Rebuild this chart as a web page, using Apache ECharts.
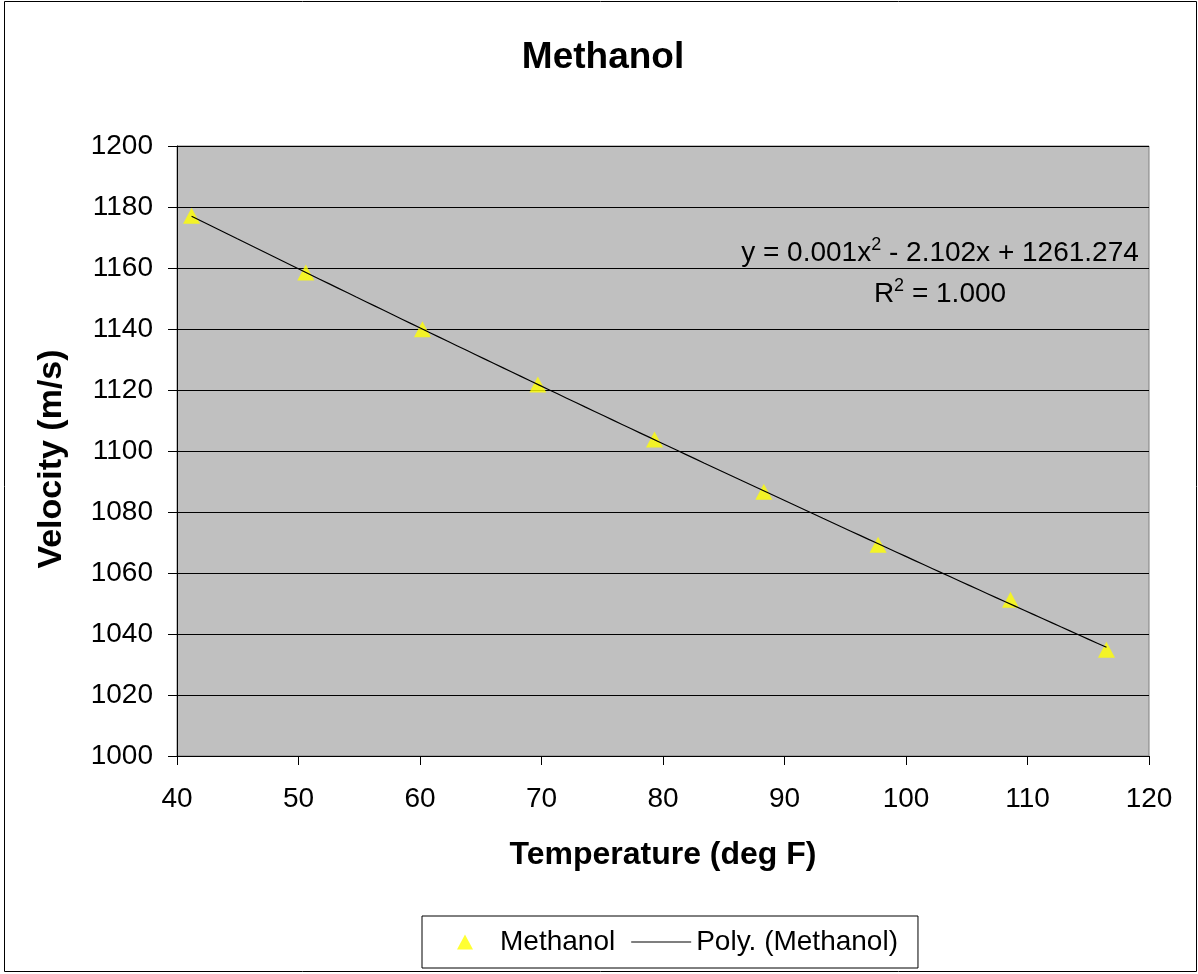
<!DOCTYPE html>
<html>
<head>
<meta charset="utf-8">
<script src="https://cdn.jsdelivr.net/npm/echarts@6/dist/echarts.min.js"></script>
<style>
html,body{margin:0;padding:0;background:#fff;}
#chart{width:1198px;height:974px;}
</style>
</head>
<body>
<div id="chart"></div>
<script>
// ---- data ----
const temperature = [41.2, 50.6, 60.2, 69.7, 79.3, 88.3, 97.7, 108.6, 116.5];
const velocity    = [1177.1, 1158.5, 1139.9, 1121.8, 1103.8, 1086.6, 1069.3, 1051.2, 1034.8];
const xTicks = [40, 50, 60, 70, 80, 90, 100, 110, 120];
const yTicks = [1000, 1020, 1040, 1060, 1080, 1100, 1120, 1140, 1160, 1180, 1200];
const seriesNames = ['Methanol', 'Poly. (Methanol)'];
const titleText = 'Methanol';
const xName = 'Temperature (deg F)';
const yName = 'Velocity (m/s)';

// ---- 2nd order least-squares trendline (as the spreadsheet computes it) ----
function polyFit2(xs, ys) {
  let s = [0,0,0,0,0], t = [0,0,0];
  for (let i = 0; i < xs.length; i++) {
    const x = xs[i], y = ys[i];
    let p = 1;
    for (let k = 0; k < 5; k++) { s[k] += p; if (k < 3) t[k] += p * y; p *= x; }
  }
  const A = [[s[0],s[1],s[2],t[0]],[s[1],s[2],s[3],t[1]],[s[2],s[3],s[4],t[2]]];
  for (let c = 0; c < 3; c++) {
    let piv = c;
    for (let r = c+1; r < 3; r++) if (Math.abs(A[r][c]) > Math.abs(A[piv][c])) piv = r;
    [A[c], A[piv]] = [A[piv], A[c]];
    for (let r = 0; r < 3; r++) {
      if (r === c) continue;
      const f = A[r][c] / A[c][c];
      for (let k = c; k < 4; k++) A[r][k] -= f * A[c][k];
    }
  }
  return [A[0][3]/A[0][0], A[1][3]/A[1][1], A[2][3]/A[2][2]];
}
const coef = polyFit2(temperature, velocity);
const xMinD = Math.min(...temperature), xMaxD = Math.max(...temperature);
const trend = [];
for (let i = 0; i <= 100; i++) {
  const x = xMinD + (xMaxD - xMinD) * i / 100;
  trend.push([x, coef[0] + coef[1]*x + coef[2]*x*x]);
}

const FONT = '"Liberation Sans", Arial, sans-serif';
const chart = echarts.init(document.getElementById('chart'), null, {renderer: 'canvas'});
chart.setOption({
  backgroundColor: '#ffffff',
  animation: false,
  title: {
    text: titleText, left: 598, top: 34, textAlign: 'center',
    textStyle: {fontFamily: FONT, fontSize: 37, fontWeight: 'bold', color: '#000'}
  },
  grid: {
    left: 177, right: 49, top: 146, bottom: 218,
    show: true, backgroundColor: '#C0C0C0', borderColor: '#808080', borderWidth: 1
  },
  xAxis: {
    type: 'value', min: xTicks[0], max: xTicks[xTicks.length-1], interval: 10,
    name: xName, nameLocation: 'middle', nameGap: 83,
    nameTextStyle: {fontFamily: FONT, fontSize: 32, fontWeight: 'bold', color: '#000'},
    axisLine: {show: true, onZero: false, lineStyle: {color: '#000', width: 1}},
    axisTick: {show: true, length: 9, lineStyle: {color: '#000'}},
    axisLabel: {fontFamily: FONT, fontSize: 28, color: '#000', margin: 29, formatter: v => String(v)},
    splitLine: {show: false}
  },
  yAxis: {
    type: 'value', min: yTicks[0], max: yTicks[yTicks.length-1], interval: 20,
    name: yName, nameLocation: 'middle', nameGap: 108, nameRotate: 90,
    nameTextStyle: {fontFamily: FONT, fontSize: 34, fontWeight: 'bold', color: '#000', padding: [0, 16, 0, 0]},
    axisLine: {show: true, onZero: false, lineStyle: {color: '#000', width: 1}},
    axisTick: {show: true, length: 9, lineStyle: {color: '#000'}},
    axisLabel: {fontFamily: FONT, fontSize: 28, color: '#000', margin: 24, formatter: v => String(v)},
    splitLine: {show: true, lineStyle: {color: '#000', width: 1}}
  },
  legend: {
    left: 422, top: 916, orient: 'horizontal',
    padding: [12, 20, 12, 35], itemGap: 16,
    itemWidth: 60, itemHeight: 15,
    borderColor: '#000', borderWidth: 1,
    textStyle: {fontFamily: FONT, fontSize: 28, color: '#000'},
    data: [
      {name: seriesNames[0], icon: 'path://M8,0 L16,15 L0,15 Z', itemStyle: {color: '#FFFF00'}},
      {name: seriesNames[1], icon: 'path://M0,0 L58,0 L58,1 L0,1 Z', itemStyle: {color: '#000'}}
    ]
  },
  graphic: [
    {type: 'rect', shape: {x: 4.5, y: 1.5, width: 1192, height: 970}, style: {fill: 'none', stroke: '#000', lineWidth: 1}, silent: true, z: 100},
    {type: 'text', x: 940, y: 253, style: {
      text: 'y = 0.001x{sup|2} - 2.102x + 1261.274',
      fontFamily: FONT, fontSize: 28, fill: '#000', align: 'center', verticalAlign: 'middle',
      rich: {sup: {fontFamily: FONT, fontSize: 18, fill: '#000', padding: [0,0,16,0]}}
    }, z: 50},
    {type: 'text', x: 940, y: 294, style: {
      text: 'R{sup|2} = 1.000',
      fontFamily: FONT, fontSize: 28, fill: '#000', align: 'center', verticalAlign: 'middle',
      rich: {sup: {fontFamily: FONT, fontSize: 18, fill: '#000', padding: [0,0,16,0]}}
    }, z: 50}
  ],
  series: [
    {
      name: seriesNames[0], type: 'scatter',
      data: temperature.map((t, i) => [t, velocity[i]]),
      symbol: 'triangle', symbolSize: [17, 16],
      itemStyle: {color: '#FFFF00', borderWidth: 0},
      z: 5
    },
    {
      name: seriesNames[1], type: 'line', data: trend,
      showSymbol: false, symbol: 'none', smooth: false,
      lineStyle: {color: '#000', width: 1.2},
      itemStyle: {color: '#000'},
      z: 6
    }
  ]
});
</script>
</body>
</html>
